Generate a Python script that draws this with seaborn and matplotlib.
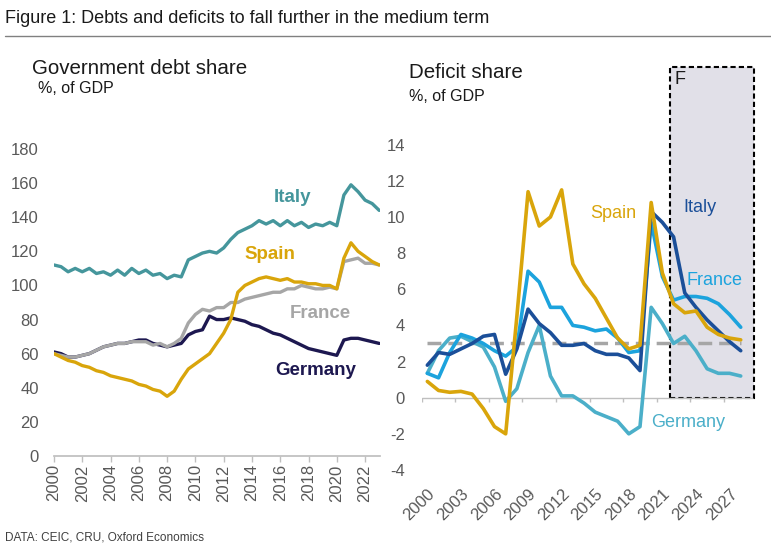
import numpy as np
import pandas as pd
import matplotlib.pyplot as plt
import matplotlib.patches as patches
import seaborn as sns

sns.set_theme(style='white')
plt.rcParams['font.family'] = ['Liberation Sans', 'DejaVu Sans']
plt.rcParams['axes.unicode_minus'] = False

# half-yearly debt data, 2000 - 2023
debt_years = np.arange(2000, 2023.01, 0.5)
debt_italy = [112, 111, 108, 110, 108, 110, 107, 108, 106, 109,
              106, 110, 107, 109, 106, 107, 104, 106, 105, 115,
              117, 119, 120, 119, 122, 127, 131, 133, 135, 138,
              136, 138, 135, 138, 135, 137, 134, 136, 135, 137,
              135, 153, 159, 155, 150, 148, 144]
debt_spain = [60, 58, 56, 55, 53, 52, 50, 49, 47, 46,
              45, 44, 42, 41, 39, 38, 35, 38, 45, 51,
              54, 57, 60, 66, 72, 80, 96, 100, 102, 104,
              105, 104, 103, 104, 102, 102, 101, 101, 100, 100,
              98, 116, 125, 120, 117, 114, 112]
debt_france = [60, 59, 58, 58, 59, 60, 62, 64, 65, 66,
               66, 67, 67, 67, 65, 66, 64, 66, 69, 78,
               83, 86, 85, 87, 87, 90, 90, 92, 93, 94,
               95, 96, 96, 98, 98, 100, 99, 98, 98, 99,
               98, 114, 115, 116, 113, 113, 112]
debt_germany = [61, 60, 58, 58, 59, 60, 62, 64, 65, 66,
                66, 67, 68, 68, 66, 65, 64, 65, 66, 71,
                73, 74, 82, 80, 80, 81, 80, 79, 77, 76,
                74, 72, 71, 69, 67, 65, 63, 62, 61, 60,
                59, 68, 69, 69, 68, 67, 66]

# annual deficit data, 2000 - 2028 (2022 onwards forecast)
def_years = np.arange(2000, 2029)
def_italy = [1.8, 2.5, 2.4, 2.7, 3.0, 3.4, 3.5, 1.3, 2.7, 4.9,
             4.1, 3.6, 2.9, 2.9, 3.0, 2.6, 2.4, 2.4, 2.2, 1.5,
             10.3, 9.7, 8.9, 5.8, 5.0, 4.3, 3.7, 3.1, 2.6]
def_spain = [0.9, 0.4, 0.3, 0.35, 0.2, -0.6, -1.6, -2.0, 4.5, 11.4,
             9.5, 10.0, 11.5, 7.4, 6.3, 5.5, 4.4, 3.3, 2.7, 2.9,
             10.8, 6.9, 5.2, 4.7, 4.8, 3.9, 3.5, 3.3, 3.2]
def_france = [1.35, 1.1, 2.5, 3.5, 3.3, 3.0, 2.6, 2.3, 2.8, 7.0,
              6.4, 5.0, 5.0, 4.0, 3.9, 3.7, 3.8, 3.3, 2.5, 2.6,
              9.7, 6.7, 5.4, 5.6, 5.6, 5.5, 5.2, 4.6, 3.9]
def_germany = [1.35, 2.6, 3.3, 3.4, 3.1, 2.8, 1.7, -0.2, 0.5, 2.5,
               4.0, 1.2, 0.1, 0.1, -0.3, -0.8, -1.05, -1.3, -2.0, -1.6,
               5.0, 4.1, 3.0, 3.4, 2.6, 1.6, 1.35, 1.35, 1.2]
deficit_limit = 3

debt_colors = {'Italy': '#45969c', 'Spain': '#d9a50b', 'France': '#a6a6a6', 'Germany': '#1d1850'}
def_colors = {'Italy': '#1b4f99', 'Spain': '#d9a50b', 'France': '#1ca3dd', 'Germany': '#4bafc9'}

debt = pd.concat([
    pd.DataFrame({'year': debt_years, 'value': v, 'country': c})
    for c, v in [('Italy', debt_italy), ('Spain', debt_spain),
                 ('France', debt_france), ('Germany', debt_germany)]])
deficit = pd.concat([
    pd.DataFrame({'year': def_years, 'value': v, 'country': c})
    for c, v in [('Italy', def_italy), ('Spain', def_spain),
                 ('France', def_france), ('Germany', def_germany)]])

grey_txt = '#595959'
axis_col = '#bfbfbf'

fig = plt.figure(figsize=(7.71, 5.47), dpi=100)

fig.text(0.007, 0.967, 'Figure 1: Debts and deficits to fall further in the medium term',
         fontsize=13, color='#1a1a1a', va='center')
fig.add_artist(plt.Line2D([0.007, 1.0], [0.934, 0.934], color='#808080', lw=1))
fig.text(0.007, 0.018, 'DATA: CEIC, CRU, Oxford Economics', fontsize=8.5, color='#404040', va='center')

# ---- left: debt
ax1 = fig.add_axes([0.070, 0.1664, 0.4228, 0.5612])
sns.lineplot(data=debt, x='year', y='value', hue='country', palette=debt_colors,
             hue_order=['Germany', 'France', 'Spain', 'Italy'], linewidth=2.4,
             legend=False, ax=ax1)
ax1.set_xlim(2000, 2023.05)
ax1.set_ylim(0, 180)
ax1.set_yticks(range(0, 181, 20))
ax1.set_xticks(range(2000, 2023, 2))
ax1.tick_params(axis='x', rotation=90, length=4, width=1, color=axis_col,
                direction='out', pad=2, labelsize=12, labelcolor=grey_txt, bottom=True)
ax1.tick_params(axis='y', length=0, pad=11, labelsize=12, labelcolor=grey_txt)
for s in ['top', 'right', 'left']:
    ax1.spines[s].set_visible(False)
ax1.spines['bottom'].set_color(axis_col)
ax1.set_xlabel('')
ax1.set_ylabel('')
ax1.text(2016.9, 151.3, 'Italy', color=debt_colors['Italy'], fontsize=13.5,
         fontweight='bold', ha='center', va='center')
ax1.text(2015.3, 117.9, 'Spain', color=debt_colors['Spain'], fontsize=13.5,
         fontweight='bold', ha='center', va='center')
ax1.text(2018.8, 83.3, 'France', color=debt_colors['France'], fontsize=13.5,
         fontweight='bold', ha='center', va='center')
ax1.text(2018.5, 50.4, 'Germany', color=debt_colors['Germany'], fontsize=13.5,
         fontweight='bold', ha='center', va='center')
fig.text(0.041, 0.875, 'Government debt share', fontsize=14.8, color='#1a1a1a', va='center')
fig.text(0.049, 0.839, '%, of GDP', fontsize=11.5, color='#1a1a1a', va='center')

# ---- right: deficit
ax2 = fig.add_axes([0.547, 0.1408, 0.4297, 0.7367])
ax2.add_patch(patches.Rectangle((2021.7, 0), 7.5, 18.3, facecolor='#e1e0e8',
                                edgecolor='black', linestyle=(0, (2.5, 1.5)), lw=1.5,
                                clip_on=False, zorder=0))
ax2.hlines(deficit_limit, def_years[0], def_years[-1], colors='#a6a6a6', lw=2.5,
           linestyles=(0, (4, 2)), zorder=1)
ax2.axhline(0, color=axis_col, lw=1, zorder=1)
ax2.vlines(np.arange(1999.5, 2027, 3), -0.25, 0, colors=axis_col, lw=1, zorder=1)
sns.lineplot(data=deficit, x='year', y='value', hue='country', palette=def_colors,
             hue_order=['Germany', 'France', 'Italy', 'Spain'], linewidth=2.6,
             legend=False, ax=ax2)
ax2.set_xlim(1999.5, 2029.1)
ax2.set_ylim(-4, 18.3)
ax2.set_yticks(range(-4, 15, 2))
ax2.set_xticks(range(2000, 2028, 3))
ax2.set_xticklabels([str(y) for y in range(2000, 2028, 3)], rotation=45,
                    ha='right', rotation_mode='anchor')
ax2.tick_params(axis='x', length=0, pad=12, labelsize=12, labelcolor=grey_txt)
ax2.tick_params(axis='y', length=0, pad=12, labelsize=12, labelcolor=grey_txt)
for s in ax2.spines.values():
    s.set_visible(False)
ax2.set_xlabel('')
ax2.set_ylabel('')
ax2.text(2016.6, 10.2, 'Spain', color=def_colors['Spain'], fontsize=13, ha='center', va='center')
ax2.text(2024.35, 10.55, 'Italy', color=def_colors['Italy'], fontsize=13, ha='center', va='center')
ax2.text(2025.7, 6.5, 'France', color=def_colors['France'], fontsize=13, ha='center', va='center')
ax2.text(2023.3, -1.35, 'Germany', color=def_colors['Germany'], fontsize=13, ha='center', va='center')
ax2.text(2022.1, 17.6, 'F', color='#1a1a1a', fontsize=13, ha='left', va='center')
fig.text(0.531, 0.868, 'Deficit share', fontsize=14.8, color='#1a1a1a', va='center')
fig.text(0.531, 0.823, '%, of GDP', fontsize=11.5, color='#1a1a1a', va='center')

fig.savefig('out.png', dpi=100)
